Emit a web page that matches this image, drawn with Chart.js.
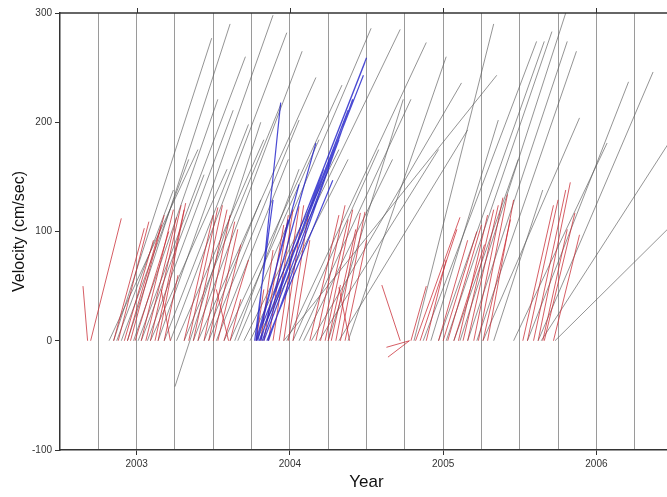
<!DOCTYPE html>
<html>
<head>
<meta charset="utf-8">
<script src="https://cdn.jsdelivr.net/npm/chart.js@4.4.1/dist/chart.umd.min.js"></script>
<style>
html,body{margin:0;padding:0;overflow:hidden;background:#fff;}
#wrap{width:676px;height:497px;}
</style>
</head>
<body>
<div id="wrap"><canvas id="c" width="676" height="497"></canvas></div>
<script>
// Axis settings
const xMin = 2002.5, xMax = 2006.5;
const yMin = -100, yMax = 300;
const yTickStep = 100;
const xGridStep = 0.25;

// Red segments: start (year, velocity) -> end (year, velocity)
const redX0 = [2002.68,2002.70,2002.85,2002.88,2002.92,2002.94,2002.96,2002.99,2003.03,2003.06,2003.09,2003.12,2003.14,2003.18,2003.22,
  2003.31,2003.34,2003.37,2003.40,2003.44,2003.47,2003.50,2003.53,2003.57,2003.60,2003.61,
  2003.81,2003.83,2003.86,2003.89,2003.93,2003.96,2003.99,2004.02,2003.78,
  2004.13,2004.17,2004.20,2004.23,2004.27,2004.30,2004.33,2004.36,2004.39,2004.25,
  2004.72,2004.78,2004.78,
  2004.79,2004.82,2004.85,2004.89,2004.97,2005.00,2005.03,2005.07,2005.10,2005.13,2005.16,2005.20,2005.23,2005.26,2005.29,
  2005.52,2005.55,2005.59,2005.62,2005.66,2005.72,2005.65];
const redY0 = [0,0,0,0,0,0,0,0,0,0,0,0,0,0,0,
  0,0,0,0,0,0,0,0,0,0,0,
  0,0,0,0,0,0,0,0,0,
  0,0,0,0,0,0,0,0,0,0,
  0,0,0,
  0,0,0,0,0,0,0,0,0,0,0,0,0,0,0,
  0,0,0,0,0,0,0];
const redX1 = [2002.65,2002.90,2003.05,2003.08,2003.11,2003.16,2003.18,2003.21,2003.24,2003.26,2003.29,2003.31,2003.32,2003.27,2003.16,
  2003.50,2003.53,2003.56,2003.59,2003.61,2003.64,2003.66,2003.68,2003.73,2003.52,2003.68,
  2003.89,2003.96,2003.99,2004.02,2004.06,2004.09,2004.12,2004.13,2003.83,
  2004.32,2004.36,2004.38,2004.41,2004.43,2004.46,2004.49,2004.50,2004.32,2004.33,
  2004.60,2004.63,2004.64,
  2004.89,2005.11,2005.09,2005.02,2005.16,2005.22,2005.25,2005.27,2005.29,2005.33,2005.36,2005.39,2005.42,2005.44,2005.46,
  2005.72,2005.75,2005.80,2005.83,2005.86,2005.89,2005.81];
const redY1 = [50,112,103,109,92,106,115,100,120,113,124,120,126,60,47,
  115,122,124,120,115,109,102,88,74,47,38,
  83,106,115,120,123,124,115,92,47,
  115,124,111,120,102,117,118,92,49,51,
  51,-6,-15,
  50,113,102,74,92,100,106,88,115,120,124,131,134,111,129,
  124,129,138,145,117,97,102];

// Gray segments
const grayX0 = [2002.82,2002.85,2002.90,2002.94,2002.98,2003.01,2003.07,2003.09,2003.14,2003.18,2003.22,2003.26,2003.25,
  2003.37,2003.40,2003.47,2003.52,2003.57,2003.61,2003.66,2003.70,2003.74,2003.78,
  2003.96,2003.98,2004.02,2004.14,2004.19,2004.25,2004.32,2004.38,2004.09,
  2004.81,2004.87,2004.92,2004.97,2005.02,2005.07,2005.11,2005.16,2005.22,2005.26,2005.33,
  2005.46,2005.55,2005.62,2005.64,2005.73,
  2002.87,2003.03,2003.31,2003.44,2003.64,2004.06];
const grayY0 = [0,0,0,0,0,0,0,0,0,0,0,0,-42,
  0,0,0,0,0,0,0,0,0,0,
  0,0,0,0,0,0,0,0,0,
  0,0,0,0,0,0,0,0,0,0,0,
  0,0,0,0,0,
  0,0,0,0,0,0];
const grayX1 = [2003.40,2003.49,2003.34,2003.61,2003.53,2003.71,2003.63,2003.59,2003.89,2003.73,2003.98,2003.83,2003.81,
  2004.08,2004.17,2004.06,2003.99,2004.34,2004.19,2004.53,2004.32,2004.72,2004.38,
  2005.35,2004.89,2004.58,2005.12,2004.97,2004.74,2005.16,2005.02,2004.67,
  2005.33,2005.61,2005.36,2005.66,2005.71,2005.49,2005.80,2005.81,2005.87,2005.89,2005.65,
  2006.07,2006.21,2006.37,2006.50,2006.50,
  2003.24,2003.44,2003.94,2003.81,2004.06,2004.79];
const grayY1 = [175,277,166,290,221,260,211,157,298,198,282,184,200,
  265,241,202,166,234,184,286,175,285,166,
  243,273,175,236,175,221,193,260,166,
  290,274,202,274,283,166,300,274,265,204,138,
  181,237,246,187,107,
  138,152,216,129,157,221];

// Blue segments
const blueX0 = [2003.78,2003.78,2003.80,2003.78,2003.77,2003.78,2003.81,2003.82,2003.83,2003.80,2003.85,2003.79,2003.86];
const blueY0 = [0,0,0,0,0,0,0,0,0,0,0,0,0];
const blueX1 = [2004.50,2004.49,2004.48,2003.94,2003.89,2004.06,2004.17,2004.22,2004.32,2004.38,2004.28,2003.99,2004.41];
const blueY1 = [259,255,243,218,129,143,181,157,184,211,147,111,221];

// Axis text
const xTitle = 'Year';
const yTitle = 'Velocity (cm/sec)';

function segments(x0, y0, x1, y1) {
  const pts = [];
  for (let i = 0; i < x0.length; i++) {
    pts.push({x: x0[i], y: y0[i]}, {x: x1[i], y: y1[i]}, {x: x1[i], y: null});
  }
  return pts;
}

const isYear = v => Math.abs(v - Math.round(v)) < 1e-6;

const frameTop = {
  id: 'frameTop',
  afterDraw(chart) {
    const {ctx, chartArea} = chart;
    const xs = chart.scales.x;
    ctx.save();
    ctx.strokeStyle = '#333';
    ctx.lineWidth = 1.5;
    ctx.beginPath();
    ctx.moveTo(chartArea.left, chartArea.top);
    ctx.lineTo(chartArea.right, chartArea.top);
    ctx.stroke();
    ctx.lineWidth = 1;
    xs.ticks.forEach(t => {
      if (isYear(t.value)) {
        const px = Math.round(xs.getPixelForValue(t.value)) + 0.5;
        ctx.beginPath();
        ctx.moveTo(px, chartArea.top);
        ctx.lineTo(px, chartArea.top - 5);
        ctx.stroke();
      }
    });
    ctx.restore();
  }
};

const font = {family: "'Liberation Sans', Arial, Helvetica, sans-serif"};

new Chart(document.getElementById('c'), {
  type: 'line',
  data: {
    datasets: [
      {data: segments(grayX0, grayY0, grayX1, grayY1), borderColor: 'rgba(90,90,90,0.65)', borderWidth: 1, order: 3},
      {data: segments(redX0, redY0, redX1, redY1), borderColor: 'rgba(200,40,50,0.75)', borderWidth: 1, order: 2},
      {data: segments(blueX0, blueY0, blueX1, blueY1), borderColor: 'rgba(30,30,200,0.8)', borderWidth: 1.2, order: 1}
    ]
  },
  options: {
    responsive: false,
    animation: false,
    spanGaps: false,
    elements: {point: {radius: 0, hoverRadius: 0}, line: {tension: 0}},
    layout: {padding: {top: 13, right: 0, left: 0, bottom: 0}},
    plugins: {legend: {display: false}, tooltip: {enabled: false}},
    events: [],
    scales: {
      x: {
        type: 'linear',
        min: xMin, max: xMax,
        afterFit: s => { s.height = 47; },
        afterBuildTicks: s => {
          const t = [];
          for (let v = xMin; v <= xMax + 1e-9; v += xGridStep) t.push({value: v});
          s.ticks = t;
        },
        ticks: {
          autoSkip: false, maxRotation: 0, padding: 3,
          color: '#333', font: {...font, size: 10},
          callback: v => isYear(v) ? String(Math.round(v)) : ''
        },
        grid: {
          color: c => (c.tick && (c.tick.value === xMin || c.tick.value === xMax)) ? 'rgba(0,0,0,0)' : '#9a9a9a',
          lineWidth: 1,
          tickLength: 5,
          tickColor: c => (c.tick && isYear(c.tick.value)) ? '#333' : 'rgba(0,0,0,0)'
        },
        border: {display: true, color: '#333', width: 1.5},
        title: {display: true, text: xTitle, color: '#111', font: {...font, size: 17}, padding: {top: 0, bottom: 4}}
      },
      y: {
        min: yMin, max: yMax,
        afterFit: s => { s.width = 60; },
        ticks: {stepSize: yTickStep, padding: 3, color: '#333', font: {...font, size: 10}},
        grid: {drawOnChartArea: false, tickLength: 5, tickColor: '#333'},
        border: {display: true, color: '#333', width: 1.5},
        title: {display: true, text: yTitle, color: '#111', font: {...font, size: 16}, padding: {top: 10, bottom: 0}}
      }
    }
  },
  plugins: [frameTop]
});
</script>
</body>
</html>
